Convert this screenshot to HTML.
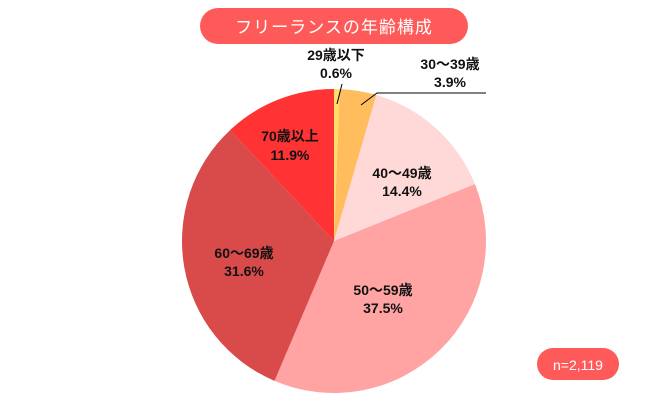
<!DOCTYPE html><html><head><meta charset="utf-8"><style>
body{margin:0;background:#fff;width:668px;height:400px;overflow:hidden}
svg text{font-family:"Liberation Sans","Noto Sans CJK JP",sans-serif}
</style></head><body>
<svg id="s" width="668" height="400" xmlns="http://www.w3.org/2000/svg">
<rect x="200" y="8" width="268" height="36" rx="18" fill="#ff5a5a"/>
<text x="334" y="33" font-size="17" fill="#fff" text-anchor="middle" letter-spacing="1">フリーランスの年齢構成</text>
<rect x="537" y="348" width="82" height="32" rx="16" fill="#ff5a5a"/>
<text x="578" y="370" font-size="14" fill="#fff" text-anchor="middle">n=2,119</text>
<g id="pie"></g>
<line x1="342" y1="84" x2="337" y2="104" stroke="#000" stroke-width="1"/>
<polyline points="361,105 377,93 486,93" fill="none" stroke="#000" stroke-width="1"/>
<g font-size="14" font-weight="bold" fill="#111" text-anchor="middle">
<text x="336" y="60">29歳以下</text><text x="336" y="78">0.6%</text>
<text x="450" y="69">30〜39歳</text><text x="450" y="87">3.9%</text>
<text x="402" y="178">40〜49歳</text><text x="402" y="196">14.4%</text>
<text x="383" y="295">50〜59歳</text><text x="383" y="313">37.5%</text>
<text x="244" y="258">60〜69歳</text><text x="244" y="276">31.6%</text>
<text x="290" y="141">70歳以上</text><text x="290" y="160">11.9%</text>
</g>
</svg>
<script>
var d=[[0.6,"#ffe066"],[3.9,"#ffbd5e"],[14.4,"#ffd8d8"],[37.5,"#ffa3a3"],[31.6,"#d94a4a"],[12.0,"#ff3333"]];
var cx=334,cy=241,r=152,a=0,h="";
d.forEach(function(e){var a1=a+e[0]/100*2*Math.PI;
var x0=cx+r*Math.sin(a),y0=cy-r*Math.cos(a),x1=cx+r*Math.sin(a1),y1=cy-r*Math.cos(a1);
h+='<path d="M'+cx+','+cy+'L'+x0+','+y0+'A'+r+','+r+' 0 '+(a1-a>Math.PI?1:0)+' 1 '+x1+','+y1+'Z" fill="'+e[1]+'"/>';a=a1;});
document.getElementById("pie").innerHTML=h;
</script>
</body></html>
